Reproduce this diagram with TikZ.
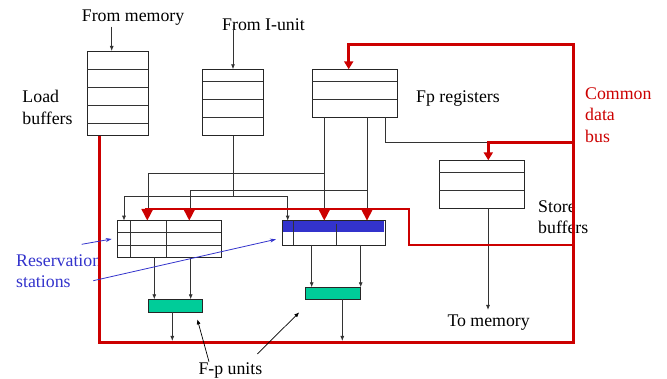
\documentclass[tikz,border=0pt]{standalone}
\usepackage{fontspec}
\setmainfont{Liberation Serif}
\usetikzlibrary{arrows.meta}
\definecolor{busred}{RGB}{204,0,0}
\definecolor{rsblue}{RGB}{51,51,204}
\definecolor{fugreen}{RGB}{0,204,153}
\tikzset{
  regbox/.style={draw=black!85, line width=0.9pt, fill=white, inner sep=0pt, outer sep=0pt, anchor=north west},
  fubox/.style={regbox, fill=fugreen},
  wire/.style={draw=black!80, line width=0.8pt},
  arr/.style={wire, -{Latex[length=5pt,width=4pt]}},
  bus/.style={draw=busred, line width=2.6pt, line join=miter},
  busarr/.style={bus, -{Triangle[length=8pt,width=9pt]}},
  bustip/.style={fill=busred, draw=none},
  lbl/.style={inner sep=0pt, anchor=base west, font=\fontsize{17.8}{21.5}\selectfont, align=left},
  pointer/.style={draw=rsblue, line width=0.8pt, -{Stealth[length=6pt,width=4pt]}},
}
% horizontal row separators inside a register box
\newcommand{\rowsep}[2]{\foreach \d in {#2} \draw[wire, line width=0.9pt] ([yshift=-\d pt]#1.north west) -- ([yshift=-\d pt]#1.north east);}
% red bus tip pointing down into a reservation station
\newcommand{\bustri}[2]{\fill[bustip] (#1-6,#2) -- (#1+6,#2) -- (#1,#2+11.5) -- cycle;}
\begin{document}
\begin{tikzpicture}[x=1pt,y=-1pt]
\useasboundingbox (0,0) rectangle (667,379);

% labels (base anchor sits on the last line)
\node[lbl] (tmem)   at (81.7,21.7)  {From memory};
\node[lbl] (tiu)    at (222,30.7)   {From I-unit};
\node[lbl] (tload)  at (22.3,124.3) {Load\\buffers};
\node[lbl] (tfp)    at (416,102.7)  {Fp registers};
\node[lbl, text=busred] (tcdb) at (585,142.3) {Common\\data\\bus};
\node[lbl] (tstore) at (538,234)    {Store\\buffers};
\node[lbl] (ttomem) at (447.3,326.7){To memory};
\node[lbl, text=rsblue] (trs) at (16,287.7) {Reservation\\stations};
\node[lbl] (tfpu)   at (198.3,375)  {F-p units};

% register files and buffers
\node[regbox, minimum width=61pt,   minimum height=84.7pt] (lb)  at (87.3,51)   {};
\node[regbox, minimum width=60.6pt, minimum height=66.4pt] (iu)  at (202.7,69.3) {};
\node[regbox, minimum width=85.3pt, minimum height=48pt]   (fp)  at (312,69.3)  {};
\node[regbox, minimum width=85pt,   minimum height=48pt]   (sb)  at (439.3,160.3) {};
\rowsep{lb}{18,36.3,54.3,72.7}
\rowsep{iu}{11.7,30,48}
\rowsep{fp}{11.7,30}
\rowsep{sb}{12,30.4}

% reservation stations
\node[regbox, minimum width=103.3pt, minimum height=36.6pt] (rs1) at (117.7,220.7) {};
\rowsep{rs1}{12,24.3}
\draw[wire, line width=0.9pt] ([xshift=12.3pt]rs1.north west) -- ([xshift=12.3pt]rs1.south west);
\draw[wire, line width=0.9pt] ([xshift=49pt]rs1.north west) -- ([xshift=49pt]rs1.south west);

\node[regbox, minimum width=103pt, minimum height=24.3pt] (rs2) at (282,220.7) {};
\fill[rsblue] ([xshift=0.8pt,yshift=-0.8pt]rs2.north west) rectangle ([xshift=-0.8pt,yshift=-11pt]rs2.north east);
\draw[wire, line width=0.9pt] ([xshift=11.3pt]rs2.north west) -- ([xshift=11.3pt]rs2.south west);
\draw[wire, line width=0.9pt] ([xshift=54.7pt,yshift=-3pt]rs2.north west) -- ([xshift=54.7pt]rs2.south west);

% functional units
\node[fubox, minimum width=54.4pt, minimum height=12.7pt] (fu1) at (148.3,299.3) {};
\node[fubox, minimum width=55pt,   minimum height=12pt]   (fu2) at (305.7,287.3) {};

% end points of the feeds
\coordinate (memin) at (111.7,26.7);
\coordinate (iuin)  at (233,25);
\coordinate (iuj)   at (233,196.7);
\coordinate (fpa)   at (324.3,117.3);
\coordinate (fpb)   at (367,117.3);
\coordinate (fpc)   at (385.3,117.3);

% operand and instruction wiring
\draw[arr] (memin) -- (memin |- lb.north);
\draw[arr] (iuin) -- (iuin |- iu.north);
\draw[wire] (iu.south) -- (iuj);
\draw[arr] (iuj) -| ([xshift=6.3pt]rs1.north west);
\draw[arr] (iuj) -| ([xshift=5.7pt]rs2.north west);
\draw[wire] (fpa) -- (324.3,209);
\draw[wire] (324.3,173) -| (148.7,213);
\draw[wire] (fpb) -- (367,209);
\draw[wire] (367,190) -| (190.3,213);
\draw[wire] (fpc) |- (488,142.3);

% store buffers to memory
\draw[arr] (sb.south -| 488,0) -- (488,310);

% reservation stations to functional units
\draw[arr] (rs1.south -| 154.3,0) -- (fu1.north -| 154.3,0);
\draw[arr] (rs1.south -| 190.7,0) -- (fu1.north -| 190.7,0);
\draw[arr] (rs2.south -| 311.7,0) -- (fu2.north -| 311.7,0);
\draw[arr] (rs2.south -| 360.7,0) -- (fu2.north -| 360.7,0);

% results onto the bus
\draw[arr] (fu1.south -| 172.3,0) -- (172.3,341);
\draw[arr] (fu2.south -| 342.3,0) -- (342.3,341);

% common data bus
\draw[bus] (lb.south -| 99.3,0) -- (99.3,342.3) -- (573.3,342.3) -- (573.3,44.3) -- (348.7,44.3) -- (348.7,52);
\draw[busarr] (348.7,50) -- (fp.north -| 348.7,0);
\draw[bus] (573.3,142.3) -- (488.3,142.3) -- (488.3,150);
\draw[busarr] (488.3,148) -- (sb.north -| 488.3,0);
\draw[bus] (573.3,245) -- (409,245) -- (409,209) -- (145,209);
\bustri{147.3}{209}
\bustri{189.3}{209}
\bustri{324.3}{209}
\bustri{367}{209}

% pointers to the reservation stations and functional units
\coordinate (rsp1) at (81.7,244.3);
\coordinate (rsp2) at (93.3,280.7);
\draw[pointer] (rsp1) -- (111.7,239);
\draw[pointer] (rsp2) -- (276,239.3);
\coordinate (fpp1) at (209,361.7);
\coordinate (fpp2) at (257.3,354);
\draw[arr, draw=black, line width=0.7pt] (fpp1) -- (197.3,319.3);
\draw[arr, draw=black, line width=0.7pt] (fpp2) -- (299.3,312.3);
\end{tikzpicture}
\end{document}
